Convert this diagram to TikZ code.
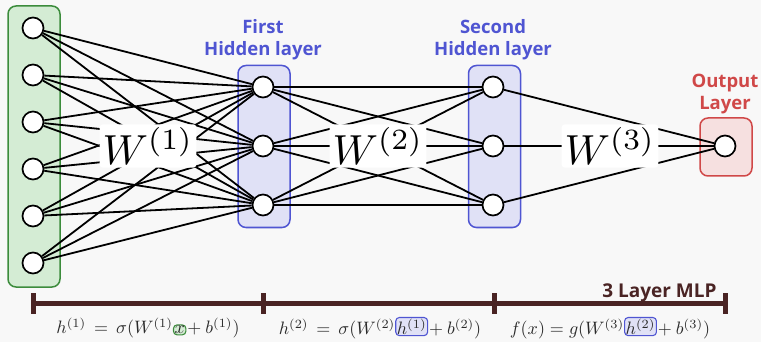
\documentclass[tikz,border=0pt]{standalone}
\usepackage{graphicx}
\usepackage{fontspec}
\setsansfont{Open Sans}
\definecolor{bgcol}{HTML}{F8F8F8}
\definecolor{ingreen}{HTML}{3C8C3C}
\definecolor{infill}{HTML}{D4ECD4}
\definecolor{hidblue}{HTML}{4F55D2}
\definecolor{hidfill}{HTML}{E0E1F6}
\definecolor{outred}{HTML}{D04848}
\definecolor{outfill}{HTML}{F6E0E0}
\definecolor{barcol}{HTML}{4A2424}
\definecolor{eqcol}{HTML}{2A2A2A}
\pgfdeclarelayer{backdrop}
\pgfdeclarelayer{boxes}
\pgfdeclarelayer{wires}
\pgfsetlayers{backdrop,boxes,wires,main}
\tikzset{
  neuron/.style={circle, draw=black, fill=white, line width=1.7pt, minimum size=21pt, inner sep=0pt},
  layerbox/.style={rounded corners=8pt, line width=1.5pt, minimum width=52pt, inner sep=0pt},
  wire/.style={line width=1.8pt, draw=black},
  wlabel/.style={fill=white, rounded corners=3pt, inner sep=3pt},
  layertitle/.style={font=\sffamily\bfseries\fontsize{18.5}{22}\selectfont, align=center},
  scalebar/.style={line width=5pt, draw=barcol},
  eqn/.style={text=eqcol, inner sep=0pt},
  hlbox/.style={rounded corners=2pt, line width=0.6pt, inner sep=0.6pt},
}
\newcommand{\bigw}[1]{\scalebox{4.2}{$W^{(#1)}$}}
\newcommand{\eqscale}[1]{\scalebox{1.8}{#1}}
\newcommand{\hlgreen}[1]{\tikz[baseline=(g.base)]\node[hlbox, draw=ingreen, fill=infill] (g) {$#1$};}
\newcommand{\hlblue}[1]{\tikz[baseline=(b.base)]\node[hlbox, draw=hidblue, fill=hidfill] (b) {$#1$};}
\begin{document}
\begin{tikzpicture}[x=1pt, y=-1pt]
  \begin{pgfonlayer}{backdrop}
    \fill[bgcol] (0,0) rectangle (761,342);
  \end{pgfonlayer}
  \useasboundingbox (0,0) rectangle (761,342);

  % layer boxes
  \begin{pgfonlayer}{boxes}
    \node[layerbox, draw=ingreen, fill=infill, minimum height=281pt] (inbox) at (34,146.5) {};
    \node[layerbox, draw=hidblue, fill=hidfill, minimum height=162pt] (h1box) at (264,146.5) {};
    \node[layerbox, draw=hidblue, fill=hidfill, minimum height=162pt] (h2box) at (494.5,146.5) {};
    \node[layerbox, draw=outred, fill=outfill, minimum width=52pt, minimum height=58pt] (outbox) at (726,147) {};
  \end{pgfonlayer}

  % neurons
  \foreach \i/\y in {1/28, 2/75, 3/122, 4/169, 5/216, 6/263}
    \node[neuron] (i\i) at (33,\y) {};
  \foreach \i/\y in {1/87, 2/146, 3/205} {
    \node[neuron] (a\i) at (263,\y) {};
    \node[neuron] (b\i) at (493,\y) {};
  }
  \node[neuron] (o) at (725,146) {};

  % connections
  \begin{pgfonlayer}{wires}
    \foreach \i in {1,...,6}
      \foreach \j in {1,2,3}
        \draw[wire] (i\i) -- (a\j);
    \foreach \i in {1,2,3}
      \foreach \j in {1,2,3}
        \draw[wire] (a\i) -- (b\j);
    \foreach \i in {1,2,3}
      \draw[wire] (b\i) -- (o);
  \end{pgfonlayer}

  % weight labels
  \node[wlabel] (w1) at (148,146) {\bigw{1}};
  \node[wlabel] (w2) at (378,146) {\bigw{2}};
  \node[wlabel] (w3) at (610,146) {\bigw{3}};

  % layer titles
  \node[layertitle, text=hidblue] (t1) at (263,40) {First\\Hidden layer};
  \node[layertitle, text=hidblue] (t2) at (493,40) {Second\\Hidden layer};
  \node[layertitle, text=outred] (t3) at (725,94) {Output\\Layer};

  % depth scale bar
  \coordinate (s0) at (33,303);
  \coordinate (s1) at (263,303);
  \coordinate (s2) at (494,303);
  \coordinate (s3) at (725,303);
  \draw[scalebar] (s0) -- (s3);
  \foreach \s in {s0,s1,s2,s3}
    \draw[scalebar] ([yshift=10pt]\s) -- ([yshift=-11pt]\s);
  \node[font=\sffamily\bfseries\fontsize{19}{21}\selectfont, text=barcol, anchor=base east] (mlp) at (720,297) {3 Layer MLP};

  % layer equations
  \node[eqn] (e1) at (148,328) {\eqscale{$h^{(1)} \,=\, \sigma(W^{(1)}\hlgreen{x}\!+b^{(1)})$}};
  \node[eqn] (e2) at (380,328) {\eqscale{$h^{(2)} \,=\, \sigma(W^{(2)}\hlblue{h^{(1)}}\!+b^{(2)})$}};
  \node[eqn] (e3) at (610,328) {\eqscale{$f(x) = g(W^{(3)}\hlblue{h^{(2)}}\!+b^{(3)})$}};
\end{tikzpicture}
\end{document}
